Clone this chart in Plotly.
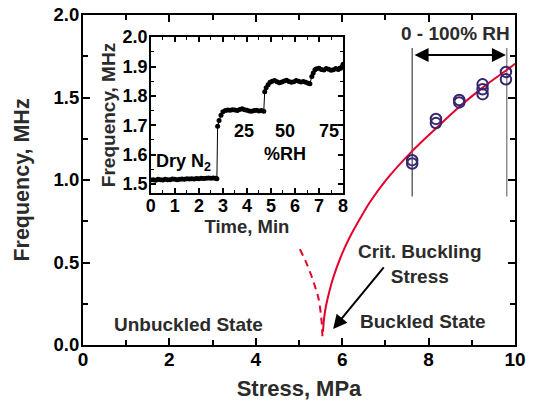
import plotly.graph_objects as go

# ---- main plot data ----
rh_stress = [7.62, 7.62, 8.17, 8.17, 8.71, 8.71, 9.25, 9.25, 9.25, 9.79, 9.79]
rh_freq = [1.10, 1.12, 1.345, 1.37, 1.47, 1.485, 1.52, 1.55, 1.58, 1.61, 1.655]

fit_stress = [5.555, 5.58, 5.62, 5.68, 5.76, 5.86, 6.00, 6.14, 6.40, 6.64, 7.00, 7.62, 8.20, 8.72, 9.25, 9.80, 10.0]
fit_freq = [0.08, 0.16, 0.23, 0.30, 0.38, 0.46, 0.555, 0.635, 0.76, 0.865, 0.995, 1.175, 1.32, 1.445, 1.56, 1.665, 1.705]

unstable_stress = [5.02, 5.15, 5.30, 5.40, 5.45, 5.50, 5.53, 5.545]
unstable_freq = [0.58, 0.51, 0.41, 0.33, 0.285, 0.20, 0.12, 0.03]

x_ticks = [0, 2, 4, 6, 8, 10]
y_ticks = [0.0, 0.5, 1.0, 1.5, 2.0]

# ---- inset data ----
t_dry = [0.0, 0.1, 0.2, 0.3, 0.4, 0.5, 0.6, 0.7, 0.8, 0.9, 1.0, 1.1, 1.2, 1.3,
         1.4, 1.5, 1.6, 1.7, 1.8, 1.9, 2.0, 2.1, 2.2, 2.3, 2.4, 2.5, 2.6, 2.7, 2.75]
f_dry = [1.514, 1.515, 1.513, 1.516, 1.515, 1.514, 1.516, 1.515, 1.515, 1.517,
         1.516, 1.515, 1.516, 1.517, 1.516, 1.518, 1.517, 1.518, 1.517, 1.519,
         1.518, 1.520, 1.519, 1.520, 1.521, 1.520, 1.521, 1.520, 1.518]
t_25 = [2.78, 2.84, 2.92, 3.0, 3.1, 3.2, 3.3, 3.4, 3.5, 3.6, 3.7, 3.8, 3.9, 4.0,
        4.1, 4.2, 4.3, 4.4, 4.5, 4.6, 4.7]
f_25 = [1.697, 1.716, 1.734, 1.746, 1.750, 1.752, 1.751, 1.753, 1.752, 1.750,
        1.754, 1.756, 1.753, 1.751, 1.749, 1.748, 1.750, 1.751, 1.749, 1.750, 1.748]
t_50 = [4.74, 4.80, 4.88, 4.96, 5.05, 5.15, 5.25, 5.35, 5.45, 5.55, 5.65, 5.75,
        5.85, 5.95, 6.05, 6.15, 6.25, 6.35, 6.45, 6.55, 6.62]
f_50 = [1.814, 1.828, 1.838, 1.846, 1.850, 1.852, 1.848, 1.845, 1.847, 1.851,
        1.853, 1.849, 1.846, 1.848, 1.852, 1.850, 1.847, 1.849, 1.846, 1.843, 1.841]
t_75 = [6.70, 6.76, 6.83, 6.9, 7.0, 7.1, 7.2, 7.3, 7.4, 7.5, 7.6, 7.7, 7.8, 7.9,
        7.95, 8.0]
f_75 = [1.866, 1.878, 1.889, 1.892, 1.894, 1.890, 1.888, 1.893, 1.891, 1.887,
        1.889, 1.893, 1.890, 1.894, 1.899, 1.908]

inset_time = t_dry + t_25 + t_50 + t_75
inset_freq = f_dry + f_25 + f_50 + f_75

FONT = "Liberation Sans"
RED = "#e3002b"
NAVY = "#35266e"
TXT = "#2b2b2b"

fig = go.Figure()

# vertical range lines
for xv, col in [(7.62, "#444444"), (9.81, "#707070")]:
    fig.add_trace(go.Scatter(x=[xv, xv], y=[1.80, 0.90], mode="lines",
                             line=dict(color=col, width=1.2), showlegend=False,
                             hoverinfo="skip", xaxis="x", yaxis="y"))

fig.add_trace(go.Scatter(x=fit_stress, y=fit_freq, mode="lines",
                         line=dict(color=RED, width=2, shape="spline", smoothing=1.0),
                         showlegend=False, xaxis="x", yaxis="y"))
fig.add_trace(go.Scatter(x=unstable_stress, y=unstable_freq, mode="lines",
                         line=dict(color=RED, width=2, dash="7px,5px", shape="spline"),
                         showlegend=False, xaxis="x", yaxis="y"))
fig.add_trace(go.Scatter(x=rh_stress, y=rh_freq, mode="markers",
                         marker=dict(symbol="circle-open", size=10.5, color=NAVY,
                                     line=dict(color=NAVY, width=2)),
                         showlegend=False, xaxis="x", yaxis="y"))

# inset
fig.add_trace(go.Scatter(x=inset_time, y=inset_freq, mode="lines+markers",
                         line=dict(color="black", width=1),
                         marker=dict(color="black", size=5),
                         showlegend=False, xaxis="x2", yaxis="y2"))

axis_common = dict(showline=True, linecolor="black", mirror="ticks", automargin=False,
                   ticks="inside", tickcolor="black", showgrid=False, zeroline=False,
                   ticklabeloverflow="allow")

# page body has an 8px margin, so the figure is sized/offset to compensate
fig.update_layout(
    width=527, height=394,
    margin=dict(l=75, r=20, t=7, b=57),
    paper_bgcolor="white", plot_bgcolor="white",
    font=dict(family=FONT, color="black"),
    xaxis=dict(domain=[0, 1], range=[0, 10], tickvals=x_ticks,
               ticktext=[str(v) for v in x_ticks], linewidth=2, ticklen=7, tickwidth=2,
               ticklabelstandoff=-4,
               minor=dict(dtick=1, tick0=0, ticks="inside", ticklen=5, tickwidth=1.5, tickcolor="black"),
               tickfont=dict(family=FONT, size=19, color="black", weight="bold"),
               title=dict(text="<b>Stress, MPa</b>", font=dict(family=FONT, size=22, color=TXT), standoff=12),
               **axis_common),
    yaxis=dict(domain=[0, 1], range=[0, 2], tickvals=y_ticks,
               ticktext=["%.1f" % v for v in y_ticks], linewidth=2, ticklen=7, tickwidth=2,
               ticklabelstandoff=-2,
               minor=dict(dtick=0.25, tick0=0, ticks="inside", ticklen=5, tickwidth=1.5, tickcolor="black"),
               tickfont=dict(family=FONT, size=18.5, color="black", weight="bold"),
               title=dict(text="<b>Frequency, MHz</b>", font=dict(family=FONT, size=21.5, color=TXT), standoff=18),
               **axis_common),
    xaxis2=dict(domain=[0.157, 0.602], anchor="y2", range=[0, 8], dtick=1, tick0=0,
                linewidth=1.5, ticklen=5, tickwidth=1.5, ticklabelstandoff=-4,
                minor=dict(dtick=0.5, tick0=0, ticks="inside", ticklen=3, tickwidth=1, tickcolor="black"),
                tickfont=dict(family=FONT, size=18, color="black", weight="bold"),
                title=dict(text="<b>Time, Min</b>", font=dict(family=FONT, size=18.5, color=TXT), standoff=0),
                **axis_common),
    yaxis2=dict(domain=[0.461, 0.933], anchor="x2", range=[1.47, 2.0], dtick=0.1, tick0=1.5,
                tickformat=".1f", linewidth=1.5, ticklen=5, tickwidth=1.5, ticklabelstandoff=-2,
                minor=dict(dtick=0.05, tick0=1.5, ticks="inside", ticklen=3, tickwidth=1, tickcolor="black"),
                tickfont=dict(family=FONT, size=18, color="black", weight="bold"),
                title=dict(text="<b>Frequency, MHz</b>", font=dict(family=FONT, size=19, color=TXT), standoff=2),
                **axis_common),
)

ann_font = dict(family=FONT, size=19, color=TXT)
annotations = [
    dict(x=8.63, y=1.885, xref="x", yref="y", text="<b>0 - 100% RH</b>", showarrow=False, font=ann_font),
    dict(x=9.79, y=1.758, ax=7.64, ay=1.758, xref="x", yref="y", axref="x", ayref="y",
         text="", showarrow=True, arrowhead=2, arrowside="end+start", arrowsize=1.4,
         arrowwidth=2, arrowcolor="black"),
    dict(x=7.80, y=0.49, xref="x", yref="y", text="<b>Crit. Buckling<br>Stress</b>",
         showarrow=False, font=ann_font),
    dict(x=5.79, y=0.097, ax=6.99, ay=0.479, xref="x", yref="y", axref="x", ayref="y",
         text="", showarrow=True, arrowhead=2, arrowsize=1.4, arrowwidth=2, arrowcolor="black"),
    dict(x=7.87, y=0.145, xref="x", yref="y", text="<b>Buckled State</b>", showarrow=False, font=ann_font),
    dict(x=2.45, y=0.127, xref="x", yref="y", text="<b>Unbuckled State</b>", showarrow=False, font=ann_font),
    # inset labels
    dict(x=1.35, y=1.572, xref="x2", yref="y2", text="<b>Dry N<sub>2</sub></b>", showarrow=False,
         font=dict(family=FONT, size=18, color="black")),
    dict(x=3.86, y=1.68, xref="x2", yref="y2", text="<b>25</b>", showarrow=False,
         font=dict(family=FONT, size=18, color="black")),
    dict(x=5.6, y=1.68, xref="x2", yref="y2", text="<b>50</b>", showarrow=False,
         font=dict(family=FONT, size=18, color="black")),
    dict(x=7.42, y=1.68, xref="x2", yref="y2", text="<b>75</b>", showarrow=False,
         font=dict(family=FONT, size=18, color="black")),
    dict(x=5.6, y=1.601, xref="x2", yref="y2", text="<b>%RH</b>", showarrow=False,
         font=dict(family=FONT, size=18, color="black")),
]
fig.update_layout(annotations=annotations)

fig.write_html("out.html")
